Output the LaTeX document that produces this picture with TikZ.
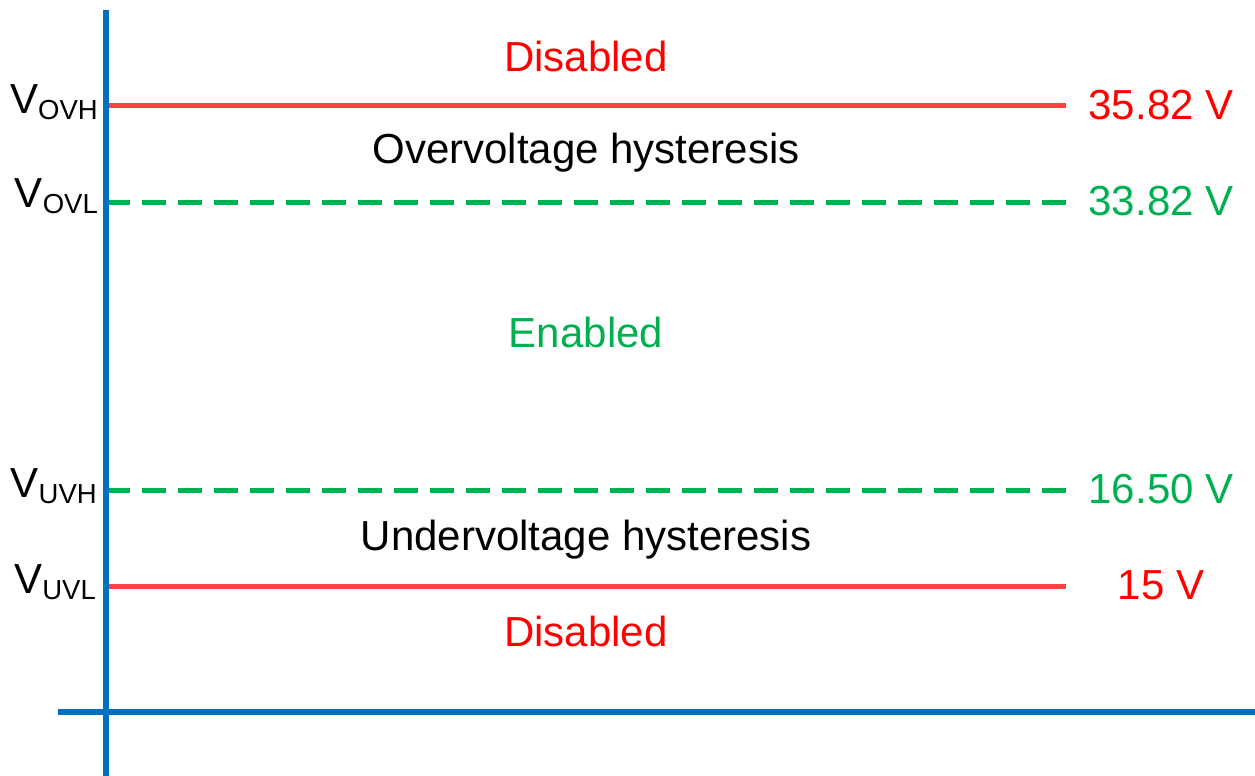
\documentclass[tikz,border=0pt]{standalone}
\usepackage{fontspec}
\setmainfont{Liberation Sans}
\definecolor{axisblue}{HTML}{0070C0}
\definecolor{limitred}{HTML}{FF4040}
\definecolor{textred}{HTML}{FF0000}
\definecolor{okgreen}{HTML}{00B050}
\tikzset{
  axisline/.style={axisblue, line width=6pt},
  hardlimit/.style={limitred, line width=5pt},
  softlimit/.style={okgreen, line width=5pt, dash pattern=on 24pt off 12pt, dash phase=3pt},
  bigtext/.style={inner sep=0pt, font=\fontsize{42}{50}\selectfont},
  levellabel/.style={bigtext, anchor=base east},
  valuelabel/.style={bigtext, anchor=base},
  zonelabel/.style={bigtext, anchor=base}
}
\newcommand{\lvl}[1]{V\raisebox{-6pt}{\fontsize{27.5}{30}\selectfont #1}}
\begin{document}
\begin{tikzpicture}[x=1pt, y=-1pt]
  \useasboundingbox (0,0) rectangle (1255,776);

  % axes
  \coordinate (ytop) at (106,10);
  \coordinate (ybot) at (106,776);
  \coordinate (xleft) at (58,712);
  \coordinate (xright) at (1255,712);
  \draw[axisline] (ytop) -- (ybot);
  \draw[axisline] (xleft) -- (xright);

  % threshold lines
  \coordinate (ovh-l) at (109,105);  \coordinate (ovh-r) at (1066,105);
  \coordinate (ovl-l) at (109,202);  \coordinate (ovl-r) at (1066,202);
  \coordinate (uvh-l) at (109,490);  \coordinate (uvh-r) at (1066,490);
  \coordinate (uvl-l) at (109,586);  \coordinate (uvl-r) at (1066,586);
  \draw[hardlimit] (ovh-l) -- (ovh-r);
  \draw[softlimit] (ovl-l) -- (ovl-r);
  \draw[softlimit] (uvh-l) -- (uvh-r);
  \draw[hardlimit] (uvl-l) -- (uvl-r);

  % threshold names
  \node[levellabel] (n-ovh) at (98,113) {\lvl{OVH}};
  \node[levellabel] (n-ovl) at (98,207) {\lvl{OVL}};
  \node[levellabel] (n-uvh) at (97,497) {\lvl{UVH}};
  \node[levellabel] (n-uvl) at (96,593) {\lvl{UVL}};

  % threshold values
  \node[valuelabel, textred] (v-ovh) at (1161,119) {35.82 V};
  \node[valuelabel, okgreen] (v-ovl) at (1161,215) {33.82 V};
  \node[valuelabel, okgreen] (v-uvh) at (1161,503) {16.50 V};
  \node[valuelabel, textred] (v-uvl) at (1161,599) {15 V};

  % operating zones
  \node[zonelabel, textred] (z-dis-top) at (586,71) {Disabled};
  \node[zonelabel] (z-ovhys) at (586,163) {Overvoltage hysteresis};
  \node[zonelabel, okgreen] (z-en) at (586,347) {Enabled};
  \node[zonelabel] (z-uvhys) at (586,550) {Undervoltage hysteresis};
  \node[zonelabel, textred] (z-dis-bot) at (586,646) {Disabled};
\end{tikzpicture}
\end{document}
